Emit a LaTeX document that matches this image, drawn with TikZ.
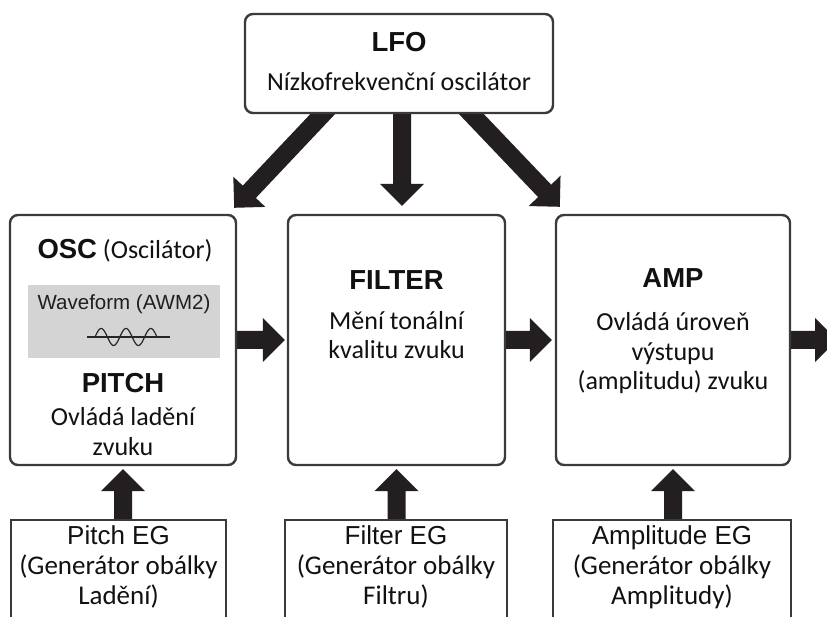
\documentclass[tikz,border=0pt]{standalone}
\usepackage{fontspec}
\setmainfont{Carlito}
\newfontfamily\hvfont{Liberation Sans}
\usetikzlibrary{calc,backgrounds}
\definecolor{boxline}{HTML}{3A3A3A}
\definecolor{arrowfill}{HTML}{231F20}
\definecolor{panelgray}{HTML}{D4D4D4}
\definecolor{txt}{HTML}{111111}
\newcommand\bdyfont{\fontsize{26}{30}\selectfont}
\newcommand\egbdyfont{\fontsize{27}{30}\selectfont}
\newcommand\ttlfont{\fontsize{27.5}{30}\selectfont\hvfont\bfseries}
\newcommand\egfont{\fontsize{26}{30}\selectfont\hvfont}
\newcommand\wavefont{\fontsize{20.5}{24}\selectfont\hvfont}
\newcommand\fatarrow[2]{%
  \coordinate (fa-h) at ($(#2)!22pt!(#1)$);
  \fill[arrowfill] ($(#1)!9pt!90:(#2)$) -- ($(fa-h)!9pt!90:(#2)$) -- ($(fa-h)!22pt!90:(#2)$) -- (#2)
    -- ($(fa-h)!22pt!-90:(#2)$) -- ($(fa-h)!9pt!-90:(#2)$) -- ($(#1)!9pt!-90:(#2)$) -- cycle;}
\begin{document}
\begin{tikzpicture}[x=1pt,y=-1pt,
  rbox/.style={draw=boxline, line width=2.4pt, rounded corners=8pt, fill=white, inner sep=0pt},
  sbox/.style={draw=boxline, line width=1.4pt, fill=white, inner sep=0pt},
  ln/.style={anchor=base, inner sep=0pt, text=txt, font=\bdyfont},
  egln/.style={anchor=base, inner sep=0pt, text=txt, font=\egbdyfont},
  ttl/.style={anchor=base, inner sep=0pt, text=txt, font=\ttlfont},
  eg/.style={anchor=base, inner sep=0pt, text=txt, font=\egfont},
  wavetxt/.style={anchor=base, inner sep=0pt, text=black!88, font=\wavefont},
  waveline/.style={draw=black!85, line width=1.2pt}]
\useasboundingbox (0,0) rectangle (827,617);

% boxes
\node[rbox, minimum width=308pt, minimum height=99pt] (lfo) at (399,63.5) {};
\node[rbox, minimum width=226pt, minimum height=250pt] (osc) at (123,340) {};
\node[rbox, minimum width=217pt, minimum height=250pt] (filter) at (396.5,340) {};
\node[rbox, minimum width=234pt, minimum height=250pt] (amp) at (673,340) {};
\node[sbox, minimum width=215pt, minimum height=140pt] (pitcheg) at (118.5,590) {};
\node[sbox, minimum width=222pt, minimum height=140pt] (filtereg) at (396,590) {};
\node[sbox, minimum width=238pt, minimum height=140pt] (ampeg) at (672,590) {};

% LFO texts
\node[ttl] (lfot) at (399,52) {LFO};
\node[ln] (lfod) at (399,91) {Nízkofrekvenční oscilátor};

% OSC texts
\node[ln] (osct) at (125,259) {{\ttlfont OSC} (Oscilátor)};
\node[fill=panelgray, minimum width=192pt, minimum height=73pt, inner sep=0pt] (panel) at (124,321.5) {};
\node[wavetxt] (wavet) at (124,310) {Waveform (AWM2)};
\draw[waveline] (87,337) -- (170,337);
\draw[waveline] plot[domain=0:900, samples=120] ({95+0.068889*\x},{337-8.5*sin(\x)});
\node[ttl] (pitcht) at (123,392) {PITCH};
\node[ln] (pitch1) at (123,425) {Ovládá ladění};
\node[ln] (pitch2) at (123,455) {zvuku};

% FILTER texts
\node[ttl] (filtert) at (396.5,290) {FILTER};
\node[ln] (filter1) at (396.5,330) {Mění tonální};
\node[ln] (filter2) at (396.5,359) {kvalitu zvuku};

% AMP texts
\node[ttl] (ampt) at (673,288) {AMP};
\node[ln] (amp1) at (673,331) {Ovládá úroveň};
\node[ln] (amp2) at (673,360) {výstupu};
\node[ln] (amp3) at (673,389) {(amplitudu) zvuku};

% bottom texts
\node[eg] (pegt) at (118.5,544) {Pitch EG};
\node[egln] (peg1) at (118.5,574) {(Generátor obálky};
\node[egln] (peg2) at (118.5,604) {Ladění)};
\node[eg] (fegt) at (396,544) {Filter EG};
\node[egln] (feg1) at (396,574) {(Generátor obálky};
\node[egln] (feg2) at (396,604) {Filtru)};
\node[eg] (aegt) at (672,544) {Amplitude EG};
\node[egln] (aeg1) at (672,574) {(Generátor obálky};
\node[egln] (aeg2) at (672,604) {Amplitudy)};

% arrows (behind the boxes)
\begin{scope}[on background layer]
  \fill[white] (0,0) rectangle (827,617);
  \coordinate (l1s) at ($(lfo.south)+(-67,-10)$);
  \coordinate (l1e) at ($(osc.north east)+(-3,-6)$);
  \coordinate (l2s) at ($(lfo.south)+(3,-10)$);
  \coordinate (l2e) at ($(filter.north)+(5.5,-8)$);
  \coordinate (l3s) at ($(lfo.south)+(63,-10)$);
  \coordinate (l3e) at ($(amp.north west)+(5,-7)$);
  \fatarrow{l1s}{l1e}
  \fatarrow{l2s}{l2e}
  \fatarrow{l3s}{l3e}
  \coordinate (h1s) at ($(osc.east)+(-10,0)$);
  \coordinate (h1e) at ($(filter.west)+(-2,0)$);
  \coordinate (h2s) at ($(filter.east)+(-10,0)$);
  \coordinate (h2e) at ($(amp.west)+(-3,0)$);
  \coordinate (h3s) at ($(amp.east)+(-10,0)$);
  \coordinate (out) at ($(amp.east)+(46,0)$);
  \fatarrow{h1s}{h1e}
  \fatarrow{h2s}{h2e}
  \fatarrow{h3s}{out}
  \coordinate (v1s) at ($(osc.south |- pitcheg.north)+(0,10)$);
  \coordinate (v1e) at ($(osc.south)+(0,3)$);
  \coordinate (v2s) at ($(filter.south |- filtereg.north)+(0,10)$);
  \coordinate (v2e) at ($(filter.south)+(0,3)$);
  \coordinate (v3s) at ($(amp.south |- ampeg.north)+(0,10)$);
  \coordinate (v3e) at ($(amp.south)+(0,3)$);
  \fatarrow{v1s}{v1e}
  \fatarrow{v2s}{v2e}
  \fatarrow{v3s}{v3e}
\end{scope}
\end{tikzpicture}
\end{document}
